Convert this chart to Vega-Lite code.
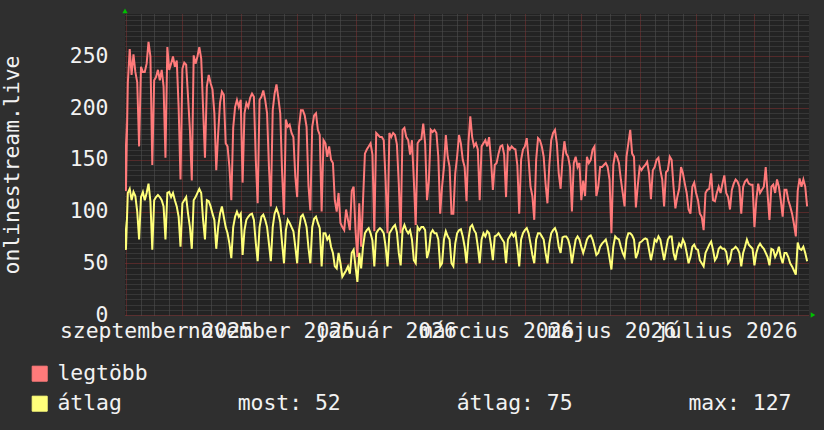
{
  "$schema": "https://vega.github.io/schema/vega-lite/v6.json",
  "width": 684,
  "height": 301,
  "autosize": {"type": "none"},
  "padding": {"left": 125, "top": 14, "right": 15, "bottom": 115},
  "background": "#2f2f2f",
  "config": {
    "view": {"fill": "#232323", "stroke": null},
    "font": "DejaVu Sans Mono",
    "axis": {"labelOverlap": false}
  },
  "data": {"values": [
    {"date":"2025-08-31","max":190,"avg":92},
    {"date":"2025-09-01","max":120,"avg":63},{"date":"2025-09-02","max":224,"avg":118},{"date":"2025-09-03","max":257,"avg":122},{"date":"2025-09-04","max":232,"avg":111},{"date":"2025-09-05","max":252,"avg":119},{"date":"2025-09-06","max":235,"avg":115},{"date":"2025-09-07","max":225,"avg":100},{"date":"2025-09-08","max":163,"avg":73},{"date":"2025-09-09","max":240,"avg":114},{"date":"2025-09-10","max":235,"avg":119},
    {"date":"2025-09-11","max":235,"avg":111},{"date":"2025-09-12","max":243,"avg":118},{"date":"2025-09-13","max":264,"avg":127},{"date":"2025-09-14","max":250,"avg":110},{"date":"2025-09-15","max":145,"avg":63},{"date":"2025-09-16","max":227,"avg":111},{"date":"2025-09-17","max":230,"avg":114},{"date":"2025-09-18","max":237,"avg":116},{"date":"2025-09-19","max":227,"avg":114},{"date":"2025-09-20","max":237,"avg":111},
    {"date":"2025-09-21","max":221,"avg":105},{"date":"2025-09-22","max":152,"avg":73},{"date":"2025-09-23","max":259,"avg":118},{"date":"2025-09-24","max":237,"avg":119},{"date":"2025-09-25","max":243,"avg":114},{"date":"2025-09-26","max":250,"avg":118},{"date":"2025-09-27","max":240,"avg":111},{"date":"2025-09-28","max":246,"avg":105},{"date":"2025-09-29","max":201,"avg":95},{"date":"2025-09-30","max":131,"avg":66},
    {"date":"2025-10-01","max":238,"avg":108},{"date":"2025-10-02","max":244,"avg":111},{"date":"2025-10-03","max":242,"avg":114},{"date":"2025-10-04","max":211,"avg":98},{"date":"2025-10-05","max":179,"avg":85},{"date":"2025-10-06","max":130,"avg":64},{"date":"2025-10-07","max":251,"avg":111},{"date":"2025-10-08","max":243,"avg":114},{"date":"2025-10-09","max":250,"avg":118},{"date":"2025-10-10","max":259,"avg":122},
    {"date":"2025-10-11","max":248,"avg":118},{"date":"2025-10-12","max":200,"avg":92},{"date":"2025-10-13","max":152,"avg":73},{"date":"2025-10-14","max":221,"avg":111},{"date":"2025-10-15","max":232,"avg":110},{"date":"2025-10-16","max":224,"avg":105},{"date":"2025-10-17","max":218,"avg":98},{"date":"2025-10-18","max":195,"avg":92},{"date":"2025-10-19","max":140,"avg":64},{"date":"2025-10-20","max":175,"avg":85},
    {"date":"2025-10-21","max":205,"avg":98},{"date":"2025-10-22","max":216,"avg":105},{"date":"2025-10-23","max":213,"avg":95},{"date":"2025-10-24","max":166,"avg":85},{"date":"2025-10-25","max":163,"avg":79},{"date":"2025-10-26","max":143,"avg":69},{"date":"2025-10-27","max":111,"avg":55},{"date":"2025-10-28","max":181,"avg":85},{"date":"2025-10-29","max":201,"avg":95},{"date":"2025-10-30","max":208,"avg":100},{"date":"2025-10-31","max":201,"avg":95},
    {"date":"2025-11-01","max":208,"avg":98},{"date":"2025-11-02","max":128,"avg":58},{"date":"2025-11-03","max":195,"avg":82},{"date":"2025-11-04","max":205,"avg":92},{"date":"2025-11-05","max":201,"avg":95},{"date":"2025-11-06","max":210,"avg":97},{"date":"2025-11-07","max":214,"avg":98},{"date":"2025-11-08","max":211,"avg":92},{"date":"2025-11-09","max":150,"avg":70},{"date":"2025-11-10","max":108,"avg":52},
    {"date":"2025-11-11","max":208,"avg":85},{"date":"2025-11-12","max":211,"avg":95},{"date":"2025-11-13","max":217,"avg":97},{"date":"2025-11-14","max":208,"avg":92},{"date":"2025-11-15","max":195,"avg":85},{"date":"2025-11-16","max":143,"avg":69},{"date":"2025-11-17","max":105,"avg":52},{"date":"2025-11-18","max":198,"avg":85},{"date":"2025-11-19","max":214,"avg":98},{"date":"2025-11-20","max":223,"avg":103},
    {"date":"2025-11-21","max":210,"avg":98},{"date":"2025-11-22","max":195,"avg":90},{"date":"2025-11-23","max":137,"avg":69},{"date":"2025-11-24","max":97,"avg":50},{"date":"2025-11-25","max":189,"avg":82},{"date":"2025-11-26","max":182,"avg":92},{"date":"2025-11-27","max":184,"avg":89},{"date":"2025-11-28","max":176,"avg":85},{"date":"2025-11-29","max":172,"avg":81},{"date":"2025-11-30","max":134,"avg":66},
    {"date":"2025-12-01","max":114,"avg":50},{"date":"2025-12-02","max":182,"avg":82},{"date":"2025-12-03","max":198,"avg":95},{"date":"2025-12-04","max":198,"avg":97},{"date":"2025-12-05","max":193,"avg":92},{"date":"2025-12-06","max":182,"avg":85},{"date":"2025-12-07","max":125,"avg":65},{"date":"2025-12-08","max":101,"avg":50},{"date":"2025-12-09","max":182,"avg":85},{"date":"2025-12-10","max":193,"avg":93},
    {"date":"2025-12-11","max":195,"avg":95},{"date":"2025-12-12","max":179,"avg":89},{"date":"2025-12-13","max":174,"avg":84},{"date":"2025-12-14","max":100,"avg":47},{"date":"2025-12-15","max":169,"avg":79},{"date":"2025-12-16","max":166,"avg":79},{"date":"2025-12-17","max":153,"avg":73},{"date":"2025-12-18","max":163,"avg":76},{"date":"2025-12-19","max":150,"avg":66},{"date":"2025-12-20","max":147,"avg":60},
    {"date":"2025-12-21","max":111,"avg":47},{"date":"2025-12-22","max":100,"avg":45},{"date":"2025-12-23","max":118,"avg":60},{"date":"2025-12-24","max":89,"avg":50},{"date":"2025-12-25","max":85,"avg":37},{"date":"2025-12-26","max":82,"avg":40},{"date":"2025-12-27","max":102,"avg":43},{"date":"2025-12-28","max":92,"avg":47},{"date":"2025-12-29","max":82,"avg":40},{"date":"2025-12-30","max":120,"avg":60},{"date":"2025-12-31","max":124,"avg":63},
    {"date":"2026-01-01","max":82,"avg":47},{"date":"2026-01-02","max":56,"avg":32},{"date":"2026-01-03","max":108,"avg":60},{"date":"2026-01-04","max":66,"avg":45},{"date":"2026-01-05","max":111,"avg":66},{"date":"2026-01-06","max":156,"avg":79},{"date":"2026-01-07","max":160,"avg":82},{"date":"2026-01-08","max":163,"avg":84},{"date":"2026-01-09","max":166,"avg":79},{"date":"2026-01-10","max":155,"avg":72},
    {"date":"2026-01-11","max":81,"avg":47},{"date":"2026-01-12","max":176,"avg":79},{"date":"2026-01-13","max":174,"avg":82},{"date":"2026-01-14","max":172,"avg":84},{"date":"2026-01-15","max":172,"avg":82},{"date":"2026-01-16","max":169,"avg":79},{"date":"2026-01-17","max":130,"avg":66},{"date":"2026-01-18","max":79,"avg":47},{"date":"2026-01-19","max":176,"avg":79},{"date":"2026-01-20","max":172,"avg":82},
    {"date":"2026-01-21","max":176,"avg":85},{"date":"2026-01-22","max":174,"avg":87},{"date":"2026-01-23","max":165,"avg":80},{"date":"2026-01-24","max":127,"avg":60},{"date":"2026-01-25","max":79,"avg":48},{"date":"2026-01-26","max":179,"avg":82},{"date":"2026-01-27","max":181,"avg":87},{"date":"2026-01-28","max":172,"avg":82},{"date":"2026-01-29","max":169,"avg":79},{"date":"2026-01-30","max":155,"avg":82},{"date":"2026-01-31","max":169,"avg":73},
    {"date":"2026-02-01","max":130,"avg":53},{"date":"2026-02-02","max":87,"avg":50},{"date":"2026-02-03","max":166,"avg":85},{"date":"2026-02-04","max":169,"avg":82},{"date":"2026-02-05","max":170,"avg":85},{"date":"2026-02-06","max":185,"avg":85},{"date":"2026-02-07","max":166,"avg":82},{"date":"2026-02-08","max":111,"avg":55},{"date":"2026-02-09","max":130,"avg":62},{"date":"2026-02-10","max":179,"avg":79},
    {"date":"2026-02-11","max":177,"avg":82},{"date":"2026-02-12","max":179,"avg":79},{"date":"2026-02-13","max":176,"avg":79},{"date":"2026-02-14","max":153,"avg":73},{"date":"2026-02-15","max":98,"avg":47},{"date":"2026-02-16","max":124,"avg":50},{"date":"2026-02-17","max":143,"avg":73},{"date":"2026-02-18","max":174,"avg":81},{"date":"2026-02-19","max":153,"avg":76},{"date":"2026-02-20","max":143,"avg":73},
    {"date":"2026-02-21","max":98,"avg":50},{"date":"2026-02-22","max":98,"avg":47},{"date":"2026-02-23","max":137,"avg":69},{"date":"2026-02-24","max":153,"avg":79},{"date":"2026-02-25","max":174,"avg":82},{"date":"2026-02-26","max":166,"avg":83},{"date":"2026-02-27","max":150,"avg":76},{"date":"2026-02-28","max":143,"avg":66},
    {"date":"2026-03-01","max":110,"avg":50},{"date":"2026-03-02","max":166,"avg":73},{"date":"2026-03-03","max":192,"avg":85},{"date":"2026-03-04","max":172,"avg":87},{"date":"2026-03-05","max":163,"avg":82},{"date":"2026-03-06","max":166,"avg":79},{"date":"2026-03-07","max":160,"avg":66},{"date":"2026-03-08","max":111,"avg":50},{"date":"2026-03-09","max":163,"avg":73},{"date":"2026-03-10","max":166,"avg":79},
    {"date":"2026-03-11","max":169,"avg":76},{"date":"2026-03-12","max":163,"avg":81},{"date":"2026-03-13","max":172,"avg":79},{"date":"2026-03-14","max":150,"avg":68},{"date":"2026-03-15","max":121,"avg":53},{"date":"2026-03-16","max":145,"avg":76},{"date":"2026-03-17","max":147,"avg":77},{"date":"2026-03-18","max":156,"avg":79},{"date":"2026-03-19","max":163,"avg":76},{"date":"2026-03-20","max":164,"avg":73},
    {"date":"2026-03-21","max":155,"avg":70},{"date":"2026-03-22","max":114,"avg":50},{"date":"2026-03-23","max":163,"avg":73},{"date":"2026-03-24","max":160,"avg":76},{"date":"2026-03-25","max":163,"avg":79},{"date":"2026-03-26","max":161,"avg":76},{"date":"2026-03-27","max":160,"avg":79},{"date":"2026-03-28","max":145,"avg":65},{"date":"2026-03-29","max":98,"avg":47},{"date":"2026-03-30","max":150,"avg":73},{"date":"2026-03-31","max":160,"avg":79},
    {"date":"2026-04-01","max":163,"avg":82},{"date":"2026-04-02","max":171,"avg":84},{"date":"2026-04-03","max":150,"avg":79},{"date":"2026-04-04","max":124,"avg":69},{"date":"2026-04-05","max":115,"avg":58},{"date":"2026-04-06","max":92,"avg":50},{"date":"2026-04-07","max":150,"avg":73},{"date":"2026-04-08","max":171,"avg":79},{"date":"2026-04-09","max":169,"avg":79},{"date":"2026-04-10","max":163,"avg":76},
    {"date":"2026-04-11","max":153,"avg":73},{"date":"2026-04-12","max":127,"avg":60},{"date":"2026-04-13","max":108,"avg":50},{"date":"2026-04-14","max":145,"avg":69},{"date":"2026-04-15","max":169,"avg":79},{"date":"2026-04-16","max":176,"avg":82},{"date":"2026-04-17","max":179,"avg":84},{"date":"2026-04-18","max":166,"avg":79},{"date":"2026-04-19","max":137,"avg":66},{"date":"2026-04-20","max":122,"avg":60},
    {"date":"2026-04-21","max":150,"avg":75},{"date":"2026-04-22","max":168,"avg":76},{"date":"2026-04-23","max":156,"avg":76},{"date":"2026-04-24","max":153,"avg":73},{"date":"2026-04-25","max":143,"avg":66},{"date":"2026-04-26","max":100,"avg":50},{"date":"2026-04-27","max":147,"avg":62},{"date":"2026-04-28","max":153,"avg":73},{"date":"2026-04-29","max":143,"avg":76},{"date":"2026-04-30","max":147,"avg":73},
    {"date":"2026-05-01","max":111,"avg":66},{"date":"2026-05-02","max":130,"avg":60},{"date":"2026-05-03","max":115,"avg":66},{"date":"2026-05-04","max":153,"avg":73},{"date":"2026-05-05","max":147,"avg":76},{"date":"2026-05-06","max":150,"avg":77},{"date":"2026-05-07","max":160,"avg":73},{"date":"2026-05-08","max":163,"avg":66},{"date":"2026-05-09","max":115,"avg":58},{"date":"2026-05-10","max":124,"avg":60},
    {"date":"2026-05-11","max":143,"avg":66},{"date":"2026-05-12","max":143,"avg":69},{"date":"2026-05-13","max":145,"avg":71},{"date":"2026-05-14","max":147,"avg":73},{"date":"2026-05-15","max":143,"avg":66},{"date":"2026-05-16","max":131,"avg":55},{"date":"2026-05-17","max":79,"avg":44},{"date":"2026-05-18","max":145,"avg":66},{"date":"2026-05-19","max":156,"avg":76},{"date":"2026-05-20","max":153,"avg":74},
    {"date":"2026-05-21","max":147,"avg":73},{"date":"2026-05-22","max":131,"avg":66},{"date":"2026-05-23","max":118,"avg":60},{"date":"2026-05-24","max":105,"avg":56},{"date":"2026-05-25","max":153,"avg":73},{"date":"2026-05-26","max":166,"avg":79},{"date":"2026-05-27","max":179,"avg":79},{"date":"2026-05-28","max":156,"avg":77},{"date":"2026-05-29","max":153,"avg":73},{"date":"2026-05-30","max":104,"avg":55},{"date":"2026-05-31","max":125,"avg":60},
    {"date":"2026-06-01","max":143,"avg":70},{"date":"2026-06-02","max":140,"avg":71},{"date":"2026-06-03","max":143,"avg":73},{"date":"2026-06-04","max":145,"avg":74},{"date":"2026-06-05","max":148,"avg":73},{"date":"2026-06-06","max":137,"avg":63},{"date":"2026-06-07","max":112,"avg":53},{"date":"2026-06-08","max":140,"avg":62},{"date":"2026-06-09","max":143,"avg":73},{"date":"2026-06-10","max":150,"avg":71},
    {"date":"2026-06-11","max":152,"avg":76},{"date":"2026-06-12","max":140,"avg":73},{"date":"2026-06-13","max":131,"avg":63},{"date":"2026-06-14","max":105,"avg":53},{"date":"2026-06-15","max":138,"avg":63},{"date":"2026-06-16","max":140,"avg":73},{"date":"2026-06-17","max":153,"avg":76},{"date":"2026-06-18","max":150,"avg":76},{"date":"2026-06-19","max":124,"avg":60},{"date":"2026-06-20","max":103,"avg":53},
    {"date":"2026-06-21","max":114,"avg":63},{"date":"2026-06-22","max":122,"avg":69},{"date":"2026-06-23","max":143,"avg":66},{"date":"2026-06-24","max":137,"avg":73},{"date":"2026-06-25","max":127,"avg":69},{"date":"2026-06-26","max":118,"avg":60},{"date":"2026-06-27","max":102,"avg":50},{"date":"2026-06-28","max":98,"avg":56},{"date":"2026-06-29","max":124,"avg":66},{"date":"2026-06-30","max":128,"avg":68},
    {"date":"2026-07-01","max":118,"avg":64},{"date":"2026-07-02","max":111,"avg":63},{"date":"2026-07-03","max":98,"avg":53},{"date":"2026-07-04","max":95,"avg":50},{"date":"2026-07-05","max":82,"avg":47},{"date":"2026-07-06","max":118,"avg":60},{"date":"2026-07-07","max":121,"avg":64},{"date":"2026-07-08","max":122,"avg":68},{"date":"2026-07-09","max":137,"avg":71},{"date":"2026-07-10","max":111,"avg":63},
    {"date":"2026-07-11","max":110,"avg":53},{"date":"2026-07-12","max":118,"avg":56},{"date":"2026-07-13","max":124,"avg":64},{"date":"2026-07-14","max":118,"avg":66},{"date":"2026-07-15","max":127,"avg":64},{"date":"2026-07-16","max":135,"avg":64},{"date":"2026-07-17","max":118,"avg":61},{"date":"2026-07-18","max":114,"avg":50},{"date":"2026-07-19","max":102,"avg":53},{"date":"2026-07-20","max":121,"avg":63},
    {"date":"2026-07-21","max":127,"avg":64},{"date":"2026-07-22","max":131,"avg":66},{"date":"2026-07-23","max":129,"avg":64},{"date":"2026-07-24","max":124,"avg":60},{"date":"2026-07-25","max":98,"avg":47},{"date":"2026-07-26","max":124,"avg":60},{"date":"2026-07-27","max":129,"avg":66},{"date":"2026-07-28","max":131,"avg":73},{"date":"2026-07-29","max":127,"avg":68},{"date":"2026-07-30","max":126,"avg":66},{"date":"2026-07-31","max":126,"avg":64},
    {"date":"2026-08-01","max":85,"avg":48},{"date":"2026-08-02","max":111,"avg":60},{"date":"2026-08-03","max":127,"avg":66},{"date":"2026-08-04","max":118,"avg":69},{"date":"2026-08-05","max":121,"avg":66},{"date":"2026-08-06","max":124,"avg":64},{"date":"2026-08-07","max":143,"avg":60},{"date":"2026-08-08","max":117,"avg":56},{"date":"2026-08-09","max":92,"avg":48},{"date":"2026-08-10","max":124,"avg":64},
    {"date":"2026-08-11","max":126,"avg":63},{"date":"2026-08-12","max":118,"avg":56},{"date":"2026-08-13","max":131,"avg":60},{"date":"2026-08-14","max":124,"avg":66},{"date":"2026-08-15","max":111,"avg":56},{"date":"2026-08-16","max":95,"avg":50},{"date":"2026-08-17","max":121,"avg":60},{"date":"2026-08-18","max":121,"avg":60},{"date":"2026-08-19","max":111,"avg":56},{"date":"2026-08-20","max":105,"avg":50},
    {"date":"2026-08-21","max":98,"avg":47},{"date":"2026-08-22","max":88,"avg":43},{"date":"2026-08-23","max":76,"avg":39},{"date":"2026-08-24","max":120,"avg":70},{"date":"2026-08-25","max":132,"avg":64},{"date":"2026-08-26","max":124,"avg":63},{"date":"2026-08-27","max":131,"avg":66},{"date":"2026-08-28","max":124,"avg":60},{"date":"2026-08-29","max":105,"avg":52}
  ]},
  "layer": [
    {
      "mark": {"type": "line", "strokeWidth": 2, "clip": true},
      "encoding": {
        "x": {
          "field": "date", "type": "temporal", "title": null,
          "scale": {"type": "utc", "domain": [{"year": 2025, "month": 8, "date": 31, "hours": 12, "utc": true}, {"year": 2026, "month": 8, "date": 30, "utc": true}]},
          "axis": {
            "values": [
              {"year":2025,"month":9,"date":1,"utc":true},{"year":2025,"month":9,"date":9,"utc":true},{"year":2025,"month":9,"date":16,"utc":true},{"year":2025,"month":9,"date":17,"utc":true},{"year":2025,"month":9,"date":24,"utc":true},
              {"year":2025,"month":10,"date":1,"utc":true},{"year":2025,"month":10,"date":9,"utc":true},{"year":2025,"month":10,"date":16,"utc":true},{"year":2025,"month":10,"date":24,"utc":true},
              {"year":2025,"month":11,"date":1,"utc":true},{"year":2025,"month":11,"date":9,"utc":true},{"year":2025,"month":11,"date":16,"utc":true},{"year":2025,"month":11,"date":17,"utc":true},{"year":2025,"month":11,"date":24,"utc":true},
              {"year":2025,"month":12,"date":1,"utc":true},{"year":2025,"month":12,"date":9,"utc":true},{"year":2025,"month":12,"date":16,"utc":true},{"year":2025,"month":12,"date":24,"utc":true},
              {"year":2026,"month":1,"date":1,"utc":true},{"year":2026,"month":1,"date":9,"utc":true},{"year":2026,"month":1,"date":16,"utc":true},{"year":2026,"month":1,"date":17,"utc":true},{"year":2026,"month":1,"date":24,"utc":true},
              {"year":2026,"month":2,"date":1,"utc":true},{"year":2026,"month":2,"date":9,"utc":true},{"year":2026,"month":2,"date":16,"utc":true},{"year":2026,"month":2,"date":24,"utc":true},
              {"year":2026,"month":3,"date":1,"utc":true},{"year":2026,"month":3,"date":9,"utc":true},{"year":2026,"month":3,"date":16,"utc":true},{"year":2026,"month":3,"date":17,"utc":true},{"year":2026,"month":3,"date":24,"utc":true},
              {"year":2026,"month":4,"date":1,"utc":true},{"year":2026,"month":4,"date":9,"utc":true},{"year":2026,"month":4,"date":16,"utc":true},{"year":2026,"month":4,"date":24,"utc":true},
              {"year":2026,"month":5,"date":1,"utc":true},{"year":2026,"month":5,"date":9,"utc":true},{"year":2026,"month":5,"date":16,"utc":true},{"year":2026,"month":5,"date":17,"utc":true},{"year":2026,"month":5,"date":24,"utc":true},
              {"year":2026,"month":6,"date":1,"utc":true},{"year":2026,"month":6,"date":9,"utc":true},{"year":2026,"month":6,"date":16,"utc":true},{"year":2026,"month":6,"date":24,"utc":true},
              {"year":2026,"month":7,"date":1,"utc":true},{"year":2026,"month":7,"date":9,"utc":true},{"year":2026,"month":7,"date":16,"utc":true},{"year":2026,"month":7,"date":17,"utc":true},{"year":2026,"month":7,"date":24,"utc":true},
              {"year":2026,"month":8,"date":1,"utc":true},{"year":2026,"month":8,"date":9,"utc":true},{"year":2026,"month":8,"date":16,"utc":true},{"year":2026,"month":8,"date":24,"utc":true}
            ],
            "tickCount": 1000,
            "labelExpr": "utcdate(datum.value) == 17 ? ['január','február','március','április','május','június','július','augusztus','szeptember','október','november','december'][utcmonth(datum.value)] + ' ' + utcyear(datum.value) : ''",
            "ticks": false,
            "domain": false,
            "labelOverlap": false,
            "labelFlush": false,
            "labelBound": false,
            "labelLimit": 1000,
            "labelFont": "DejaVu Sans Mono",
            "labelFontSize": 21.4,
            "labelColor": "#f2f2f2",
            "labelPadding": 5,
            "labelAlign": "center",
            "grid": true,
            "gridColor": {"condition": {"test": "utcdate(datum.value) == 1", "value": "#883333"}, "value": "#575757"},
            "gridOpacity": {"condition": {"test": "utcdate(datum.value) == 17", "value": 0}, "value": 1},
            "gridDash": [1, 1],
            "gridWidth": 1
          }
        },
        "y": {
          "field": "max", "type": "quantitative", "title": "onlinestream.live",
          "scale": {"domain": [0, 291], "nice": false},
          "axis": {
            "values": [0,5,10,15,20,25,30,35,40,45,50,55,60,65,70,75,80,85,90,95,100,105,110,115,120,125,130,135,140,145,150,155,160,165,170,175,180,185,190,195,200,205,210,215,220,225,230,235,240,245,250,255,260,265,270,275,280,285,290],
            "tickCount": 1000,
            "labelExpr": "datum.value % 50 == 0 ? format(datum.value, 'd') : ''",
            "ticks": false,
            "domain": false,
            "labelOverlap": false,
            "labelFont": "DejaVu Sans Mono",
            "labelFontSize": 21.4,
            "labelColor": "#f2f2f2",
            "labelPadding": 17,
            "grid": true,
            "gridColor": {"condition": {"test": "datum.value % 50 == 0", "value": "#883333"}, "value": "#4c4c4c"},
            "gridDash": [1, 1],
            "gridWidth": 1,
            "titleFont": "DejaVu Sans Mono",
            "titleFontSize": 21.4,
            "titleFontWeight": "normal",
            "titleColor": "#f2f2f2",
            "titleAngle": 270,
            "titleX": -113,
            "titleY": 150.5,
            "titleAlign": "center",
            "titleBaseline": "middle"
          }
        },
        "color": {
          "datum": "legtöbb", "type": "nominal",
          "scale": {"domain": ["legtöbb", "átlag"], "range": ["#ff7a7a", "#ffff7a"]},
          "legend": {
            "orient": "none",
            "legendX": -96,
            "legendY": 349,
            "title": null,
            "direction": "vertical",
            "padding": 0,
            "symbolType": "square",
            "symbolSize": 225,
            "symbolStrokeWidth": 1,
            "symbolStrokeColor": "#000000",
            "labelFont": "DejaVu Sans Mono",
            "labelFontSize": 21.4,
            "labelColor": "#f2f2f2",
            "labelOffset": 7,
            "labelLimit": 2000,
            "rowPadding": 7,
            "labelExpr": "datum.label == 'átlag' ? 'átlag\u00a0\u00a0\u00a0\u00a0\u00a0\u00a0\u00a0\u00a0\u00a0most: 52\u00a0\u00a0\u00a0\u00a0\u00a0\u00a0\u00a0\u00a0\u00a0átlag: 75\u00a0\u00a0\u00a0\u00a0\u00a0\u00a0\u00a0\u00a0\u00a0max: 127' : datum.label",
            "encode": {"symbols": {"update": {"fill": {"scale": "color", "field": "value"}, "stroke": {"value": "#000000"}, "strokeWidth": {"value": 1}, "opacity": {"value": 1}}}}
          }
        }
      }
    },
    {
      "mark": {"type": "line", "strokeWidth": 2, "clip": true},
      "encoding": {
        "x": {"field": "date", "type": "temporal", "title": null},
        "y": {"field": "avg", "type": "quantitative", "title": "onlinestream.live"},
        "color": {"datum": "átlag", "type": "nominal"}
      }
    },
    {
      "data": {"values": [{}]},
      "mark": {"type": "point", "shape": "triangle-up", "filled": true, "color": "#00c000", "size": 28, "opacity": 1, "clip": false},
      "encoding": {
        "x": {"datum": {"year": 2025, "month": 8, "date": 31, "hours": 12, "utc": true}, "type": "temporal", "title": null},
        "y": {"datum": 294, "type": "quantitative", "title": "onlinestream.live"}
      }
    },
    {
      "data": {"values": [{}]},
      "mark": {"type": "point", "shape": "triangle-right", "filled": true, "color": "#00c000", "size": 28, "opacity": 1, "clip": false},
      "encoding": {
        "x": {"datum": {"year": 2026, "month": 9, "date": 1, "hours": 3, "utc": true}, "type": "temporal", "title": null},
        "y": {"datum": 0, "type": "quantitative", "title": "onlinestream.live"}
      }
    }
  ]
}
